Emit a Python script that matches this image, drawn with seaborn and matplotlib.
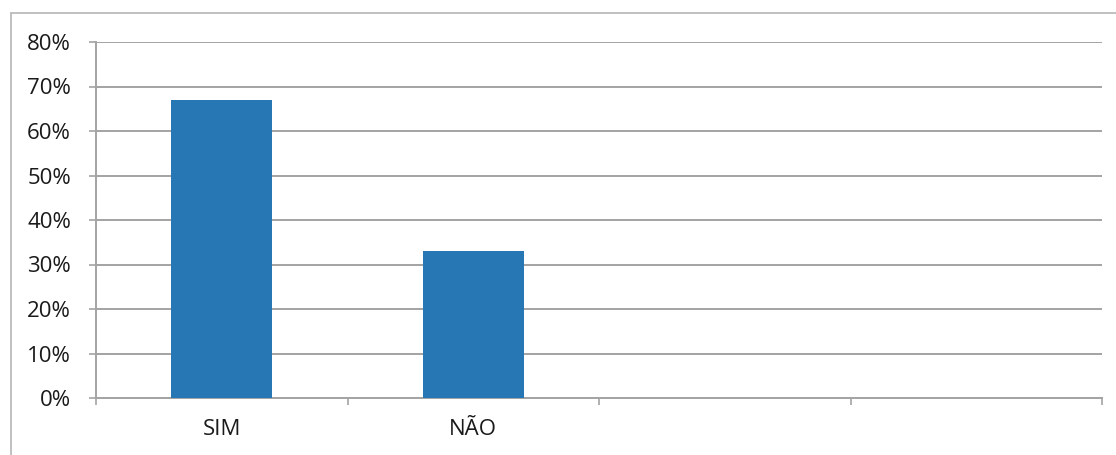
import matplotlib
matplotlib.use("Agg")
import matplotlib.pyplot as plt
from matplotlib.lines import Line2D
from matplotlib.ticker import FixedLocator, FuncFormatter
import seaborn as sns
import pandas as pd

# Survey answers (share of respondents)
categories = ["SIM", "NÃO"]
shares = [0.67, 0.33]
# Category slots on the axis: two answered, two left empty
slots = ["SIM", "NÃO", "slot3", "slot4"]
slot_labels = ["SIM", "NÃO", "", ""]
y_ticks = [0.0, 0.1, 0.2, 0.3, 0.4, 0.5, 0.6, 0.7, 0.8]

sns.set_theme(style="white")
plt.rcParams["font.family"] = ["Open Sans", "DejaVu Sans"]

df = pd.DataFrame({"resposta": categories, "valor": shares})

fig = plt.figure(figsize=(11.16, 4.55), dpi=100)
ax = fig.add_axes([96 / 1116, 1 - 398 / 455, (1102 - 96) / 1116, (398 - 42) / 455])

sns.barplot(data=df, x="resposta", y="valor", order=slots, color="#2677b4",
            saturation=1, width=0.4, linewidth=0, ax=ax, zorder=3)

grid_c = "#a3a3a3"
text_c = "#1a1a1a"
fs = 16
ax.set_xlim(-0.5, len(slots) - 0.5)
ax.set_ylim(0, 0.8)
ax.yaxis.set_major_locator(FixedLocator(y_ticks))
ax.yaxis.set_major_formatter(FuncFormatter(lambda v, p: f"{v * 100:.0f}%"))
ax.grid(axis="y", color=grid_c, linewidth=1.4, zorder=0)
ax.set_axisbelow(True)

# Category boundaries carry the tick marks, labels sit in the slot centres
ax.xaxis.set_major_locator(FixedLocator([i - 0.5 for i in range(len(slots) + 1)]))
ax.xaxis.set_major_formatter(FuncFormatter(lambda v, p: ""))
ax.xaxis.set_minor_locator(FixedLocator(list(range(len(slots)))))
ax.set_xticklabels(slot_labels, minor=True)
ax.tick_params(axis="x", which="major", direction="out", length=5, width=1.2,
               color=grid_c, bottom=True)
ax.tick_params(axis="x", which="minor", length=0, pad=15, labelsize=fs,
               labelcolor=text_c)
ax.tick_params(axis="y", direction="out", length=5, width=1.2, color=grid_c,
               left=True, pad=13, labelsize=fs, labelcolor=text_c)

for side in ("top", "right"):
    ax.spines[side].set_visible(False)
for side in ("left", "bottom"):
    ax.spines[side].set_color(grid_c)
    ax.spines[side].set_linewidth(1.4)

ax.set_xlabel("")
ax.set_ylabel("")

# Chart area frame
top = 1 - 13 / 455
left = 10.5 / 1116
fig.add_artist(Line2D([left, 1.0], [top, top], transform=fig.transFigure,
                      color="#b5b5b5", linewidth=1.2))
fig.add_artist(Line2D([left, left], [0.0, top], transform=fig.transFigure,
                      color="#b5b5b5", linewidth=1.2))

fig.savefig("out.png", dpi=100)
